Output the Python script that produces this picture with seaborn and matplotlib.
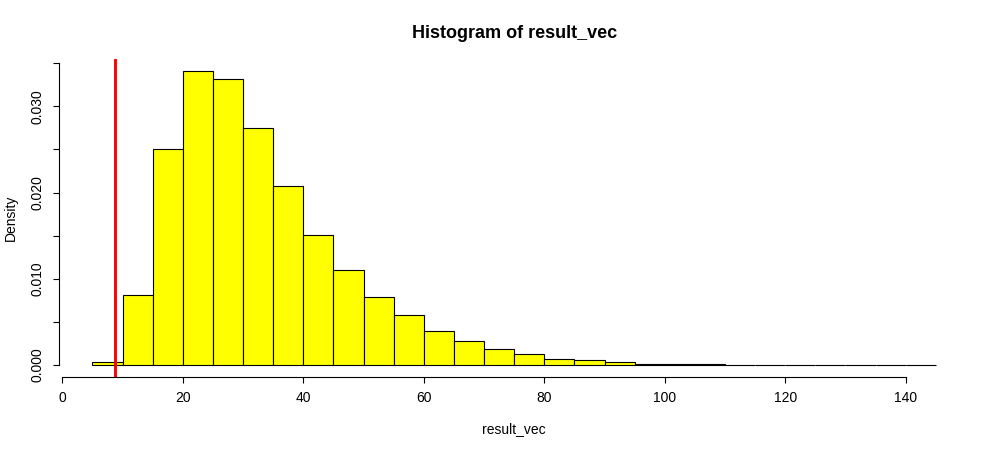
import numpy as np
import pandas as pd
import matplotlib
matplotlib.use("Agg")
import matplotlib.pyplot as plt
import seaborn as sns

# ----------------------------------------------------------
# Histogram values (bin width 5)
# ----------------------------------------------------------
bin_edges = list(range(5, 150, 5))
density = [0.00035, 0.00806, 0.0250, 0.03414, 0.03321, 0.02744, 0.0207,
           0.01512, 0.0110, 0.00785, 0.00572, 0.00386, 0.00277, 0.0018,
           0.00119, 0.00072, 0.00049, 0.00026, 0.00014, 0.00008, 0.00004,
           0.00002, 0.00001, 0.00001, 0.000005, 0.000004, 0.000003, 0.000002]
cutoff = 8.8
x_ticks = [0, 20, 40, 60, 80, 100, 120, 140]
y_ticks = [0.0, 0.005, 0.010, 0.015, 0.020, 0.025, 0.030, 0.035]
y_labels = ['0.000', '', '0.010', '', '0.020', '', '0.030', '']

mids = [(a + b) / 2 for a, b in zip(bin_edges[:-1], bin_edges[1:])]
df = pd.DataFrame({'result_vec': mids, 'density': density})

sns.set_style('white')
plt.rcParams['font.family'] = ['Liberation Sans', 'DejaVu Sans']
plt.rcParams['text.color'] = 'black'
plt.rcParams['axes.labelcolor'] = 'black'
plt.rcParams['xtick.color'] = 'black'
plt.rcParams['ytick.color'] = 'black'

fig = plt.figure(figsize=(10, 4.5), dpi=100)
ax = fig.add_axes([0.0587, 1 - 376.5 / 450, 0.9109, (376.5 - 59) / 450])

sns.histplot(data=df, x='result_vec', weights='density', bins=bin_edges,
             color='yellow', edgecolor='black', linewidth=0.8, alpha=1, ax=ax)
ax.axvline(cutoff, color='red', linewidth=2.1)

ax.set_xlim(-0.6, 150.6)
ax.set_ylim(-0.00137, 0.03551)

# R-style axes: only left and bottom, spanning the tick range
for s in ['top', 'right']:
    ax.spines[s].set_visible(False)
ax.spines['left'].set_bounds(0, 0.035)
ax.spines['bottom'].set_bounds(0, 140)
for s in ['left', 'bottom']:
    ax.spines[s].set_color('black')
    ax.spines[s].set_linewidth(0.8)

ax.set_xticks(x_ticks)
ax.set_yticks(y_ticks)
ax.set_yticklabels(y_labels, rotation=90, va='center')
ax.tick_params(axis='both', direction='out', length=4.5, width=0.8,
               color='black', labelcolor='black', labelsize=10, pad=6,
               left=True, bottom=True)

ax.set_title('Histogram of result_vec', fontsize=13, fontweight='bold',
             color='black', pad=15)
ax.set_xlabel('result_vec', fontsize=10, labelpad=12, color='black')
ax.set_ylabel('Density', fontsize=10, labelpad=9, color='black')

fig.savefig('out.png', dpi=100)
